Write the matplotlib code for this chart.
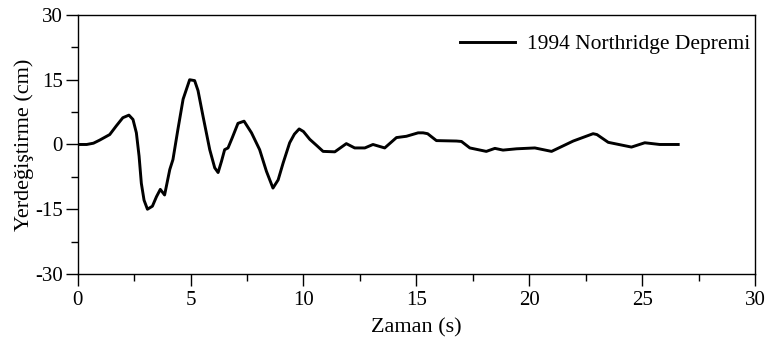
import numpy as np
import matplotlib.pyplot as plt
from matplotlib.ticker import MultipleLocator

plt.rcParams['font.family'] = ['Liberation Serif', 'DejaVu Serif']
plt.rcParams['axes.unicode_minus'] = False

# time (s) and displacement (cm)
zaman = [0, 0.4, 0.7, 0.97, 1.42, 1.71, 2.0, 2.27, 2.45, 2.6, 2.72, 2.82,
         2.94, 3.09, 3.31, 3.49, 3.66, 3.85, 4.08, 4.22, 4.44, 4.67, 4.96,
         5.18, 5.33, 5.55, 5.85, 6.07, 6.22, 6.37, 6.51, 6.66, 6.85, 7.1,
         7.37, 7.7, 8.06, 8.36, 8.65, 8.88, 9.1, 9.39, 9.6, 9.81, 10.0,
         10.28, 10.6, 10.87, 11.39, 11.9, 12.27, 12.72, 13.08, 13.6, 14.12,
         14.56, 15.08, 15.3, 15.5, 15.89, 16.78, 17.0, 17.37, 18.1, 18.48,
         18.84, 19.44, 20.25, 20.99, 21.95, 22.83, 23.0, 23.5, 24.53, 25.12,
         25.78, 26.6]
yerdegistirme = [0, 0, 0.3, 1.0, 2.3, 4.3, 6.2, 6.8, 5.8, 2.7, -2.7, -9.0,
                 -12.9, -15.0, -14.3, -12.1, -10.4, -11.7, -5.8, -3.5, 3.5,
                 10.5, 15.0, 14.8, 12.5, 6.6, -1.2, -5.4, -6.5, -3.9, -1.2,
                 -0.8, 1.6, 4.9, 5.4, 2.7, -1.2, -6.2, -10.1, -8.2, -4.3,
                 0.4, 2.4, 3.6, 3.0, 1.2, -0.3, -1.6, -1.7, 0.2, -0.8, -0.8,
                 0, -0.8, 1.6, 1.9, 2.7, 2.7, 2.5, 0.9, 0.8, 0.7, -0.8, -1.6,
                 -0.9, -1.3, -1.0, -0.8, -1.6, 0.8, 2.5, 2.3, 0.5, -0.6, 0.4,
                 0, 0]

fig = plt.figure(figsize=(7.66, 3.49), dpi=100)
ax = fig.add_axes([0.1014, 0.215, 0.8842, 0.742])

ax.plot(zaman, yerdegistirme, 'k', lw=2.1, label='1994 Northridge Depremi')

ax.set_xlim(0, 30)
ax.set_ylim(-30, 30)
ax.xaxis.set_major_locator(MultipleLocator(5))
ax.xaxis.set_minor_locator(MultipleLocator(2.5))
ax.yaxis.set_major_locator(MultipleLocator(15))
ax.yaxis.set_minor_locator(MultipleLocator(7.5))
ax.tick_params(which='both', direction='out', width=1, labelsize=15)
ax.tick_params(which='major', length=8.5)
ax.tick_params(which='minor', length=5)
ax.tick_params(axis='x', pad=3.5)
ax.tick_params(axis='y', pad=2)
for axis in ['top', 'bottom', 'left', 'right']:
    ax.spines[axis].set_linewidth(1)

ax.set_xlabel('Zaman (s)', fontsize=16, labelpad=6)
ax.set_ylabel('Yerdeğiştirme (cm)', fontsize=16, labelpad=1)
ax.legend(loc='upper right', bbox_to_anchor=(0.9926, 0.925), frameon=False,
          fontsize=15.5, handlelength=2.56, handletextpad=0.55,
          borderaxespad=0, borderpad=0)

plt.savefig('out.png', dpi=100)
